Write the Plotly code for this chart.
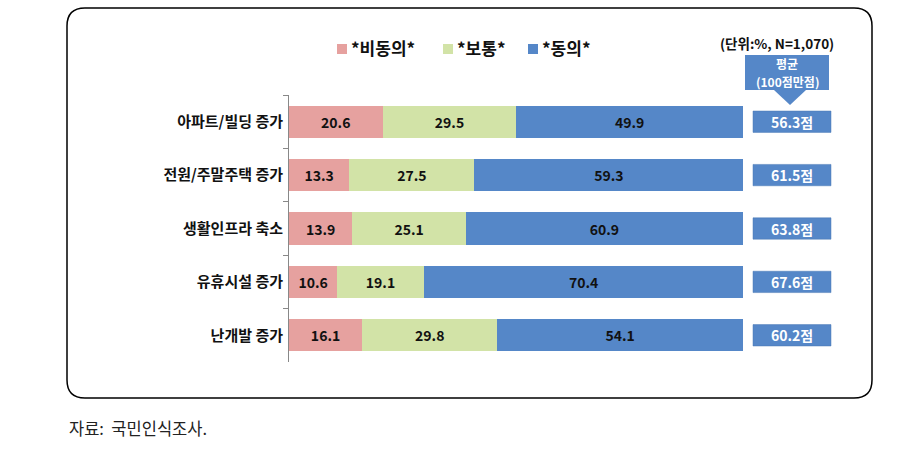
import plotly.graph_objects as go

W, H = 908, 472

categories = ["아파트/빌딩 증가", "전원/주말주택 증가", "생활인프라 축소", "유휴시설 증가", "난개발 증가"]
disagree = [20.6, 13.3, 13.9, 10.6, 16.1]
neutral = [29.5, 27.5, 25.1, 19.1, 29.8]
agree = [49.9, 59.3, 60.9, 70.4, 54.1]
averages = [56.3, 61.5, 63.8, 67.6, 60.2]
series_names = ["*비동의*", "*보통*", "*동의*"]
colors = ["#E6A19F", "#D2E3A7", "#5587C8"]
unit_text = "(단위:%, N=1,070)"
avg_header_lines = ["평균", "(100점만점)"]
source_text = "자료:  국민인식조사."

FONT = "Noto Sans CJK KR"


def px(x):
    return x / W


def py(y):
    return 1 - y / H


def rrect(x0, y0, x1, y1, r):
    pts = [
        ("M", [(x0 + r, y0)]),
        ("L", [(x1 - r, y0)]),
        ("Q", [(x1, y0), (x1, y0 + r)]),
        ("L", [(x1, y1 - r)]),
        ("Q", [(x1, y1), (x1 - r, y1)]),
        ("L", [(x0 + r, y1)]),
        ("Q", [(x0, y1), (x0, y1 - r)]),
        ("L", [(x0, y0 + r)]),
        ("Q", [(x0, y0), (x0 + r, y0)]),
    ]
    s = ""
    for cmd, ps in pts:
        s += cmd + " ".join(f"{px(a):.5f},{py(b):.5f}" for a, b in ps) + " "
    return s + "Z"


fig = go.Figure()
for name, vals, col in zip(series_names, [disagree, neutral, agree], colors):
    fig.add_trace(go.Bar(
        y=categories, x=vals, name=name, orientation="h",
        marker=dict(color=col, line=dict(width=0)),
        text=[f"{v:.1f}" for v in vals], textposition="inside",
        insidetextanchor="middle",
        textfont=dict(family=FONT, size=14, color="#111111", weight="bold"),
        width=0.6, showlegend=False,
    ))

shapes = []
annotations = []

# outer rounded frame
shapes.append(dict(type="path", xref="paper", yref="paper",
                   path=rrect(67, 8, 872, 398, 18),
                   line=dict(color="#000000", width=1.5), fillcolor="rgba(0,0,0,0)"))

# manual legend
leg_x = [342, 448, 533]
for lx, name, col in zip(leg_x, series_names, colors):
    shapes.append(dict(type="rect", xref="paper", yref="paper",
                       x0=px(lx - 5), x1=px(lx + 5), y0=py(54), y1=py(44),
                       fillcolor=col, line=dict(width=0)))
    annotations.append(dict(x=px(lx + 7), y=py(48), xref="paper", yref="paper",
                            xanchor="left", yanchor="middle", showarrow=False,
                            text=name, font=dict(family=FONT, size=17, color="#111111", weight="bold")))

# unit text
annotations.append(dict(x=px(836), y=py(43), xref="paper", yref="paper",
                        xanchor="right", yanchor="middle", showarrow=False,
                        text=unit_text, font=dict(family=FONT, size=13.5, color="#111111", weight="bold")))

# average header callout
shapes.append(dict(type="rect", xref="paper", yref="paper",
                   x0=px(745), x1=px(829), y0=py(90), y1=py(55),
                   fillcolor="#5587C8", line=dict(width=0)))
tri = f"M{px(774):.5f},{py(90):.5f} L{px(806):.5f},{py(90):.5f} L{px(790):.5f},{py(105):.5f} Z"
shapes.append(dict(type="path", xref="paper", yref="paper", path=tri,
                   fillcolor="#5587C8", line=dict(width=0)))
for line_text, ly in zip(avg_header_lines, [63.5, 81.5]):
    annotations.append(dict(x=px(787), y=py(ly), xref="paper", yref="paper",
                            xanchor="center", yanchor="middle", showarrow=False,
                            text=line_text, align="center", borderpad=0,
                            font=dict(family=FONT, size=12, color="#FFFFFF", weight="bold")))

# average badges
for i, (cat, avg) in enumerate(zip(categories, averages)):
    shapes.append(dict(type="rect", xref="paper", yref="y",
                       x0=px(753), x1=px(831), y0=i - 0.2, y1=i + 0.2,
                       fillcolor="#5587C8", line=dict(color="#4A78B5", width=0.5)))
    annotations.append(dict(x=px(792), y=cat, xref="paper", yref="y",
                            xanchor="center", yanchor="middle", showarrow=False,
                            text=f"{avg:.1f}점",
                            font=dict(family=FONT, size=14, color="#FFFFFF", weight="bold")))

# source
annotations.append(dict(x=px(67), y=py(428), xref="paper", yref="paper",
                        xanchor="left", yanchor="middle", showarrow=False,
                        text=source_text,
                        font=dict(family=FONT, size=16.5, color="#222222")))

fig.update_layout(
    width=W, height=H,
    margin=dict(l=0, r=0, t=0, b=0),
    paper_bgcolor="white", plot_bgcolor="white",
    barmode="stack", bargap=0.4,
    xaxis=dict(domain=[px(289), px(743)], range=[0, 100], visible=False, fixedrange=True),
    yaxis=dict(domain=[py(362), py(95)], autorange="reversed", type="category",
               showline=True, linecolor="#888888", linewidth=1,
               ticks="outside", ticklen=5, tickcolor="#888888",
               tickson="boundaries", ticklabelstandoff=2,
               tickfont=dict(family=FONT, size=15, color="#111111", weight="bold"),
               showgrid=False, zeroline=False),
    shapes=shapes, annotations=annotations,
    showlegend=False,
)

fig.write_html("out.html")
